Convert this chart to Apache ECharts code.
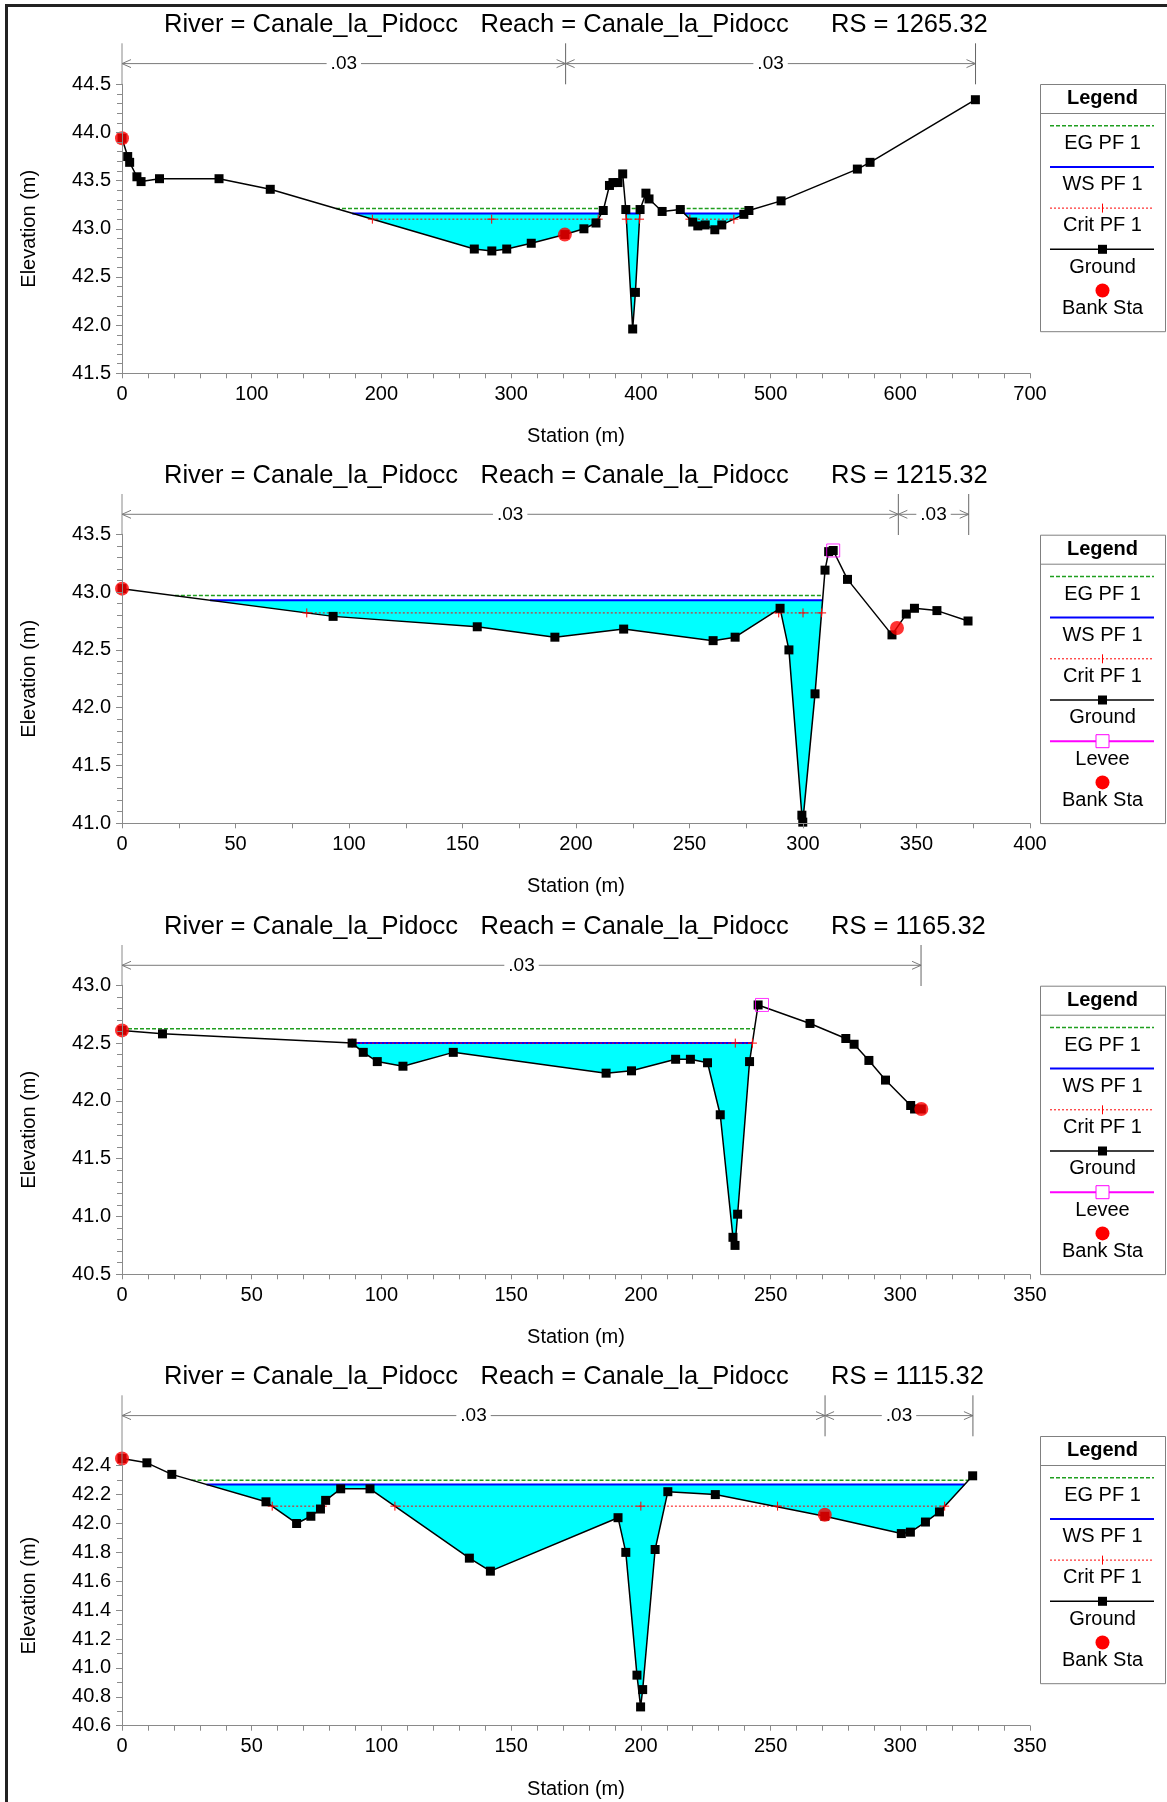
<!DOCTYPE html>
<html><head><meta charset="utf-8">
<script src="https://cdn.jsdelivr.net/npm/echarts@6/dist/echarts.min.js"></script>
<style>html,body{margin:0;padding:0;background:#fff;}#c{width:1167px;height:1802px;}</style>
</head><body><div id="c"></div>
<script>
// ================= DATA =================
const riverName = 'Canale_la_Pidocc';
const reachName = 'Canale_la_Pidocc';
const rsLabels = ['1265.32', '1215.32', '1165.32', '1115.32'];
const legendEntries = ['EG PF 1', 'WS PF 1', 'Crit PF 1', 'Ground', 'Levee', 'Bank Sta'];

// Panel 1 : RS 1265.32
const p1Ground = [[0,43.94],[4.4,43.75],[5.9,43.69],[11.5,43.54],[14.7,43.49],[28.9,43.52],[74.8,43.52],[114.3,43.41],[271.6,42.79],[285.1,42.77],[296.6,42.79],[315.5,42.85],[341.4,42.94],[356.1,43.00],[365.4,43.06],[371.0,43.19],[375.8,43.45],[378.5,43.48],[382.4,43.48],[386.0,43.57],[388.4,43.20],[393.7,41.96],[395.8,42.34],[399.4,43.20],[403.9,43.37],[406.3,43.31],[416.4,43.18],[430.4,43.20],[440.0,43.07],[443.9,43.03],[449.6,43.04],[457.0,42.99],[462.4,43.04],[479.4,43.15],[483.3,43.19],[508.1,43.29],[566.9,43.62],[576.7,43.69],[657.9,44.34]];
const p1Bank = [[0,43.94],[341.4,42.94]];
const p1Levee = [];
const p1EG = 43.21, p1WS = 43.16, p1Crit = 43.10;
const p1EGSeg = [[165,371.3],[388.3,399.5],[430.7,483.7]];
const p1WSSeg = [[177.5,369.8],[388.6,399.2],[433.4,480.4]];
const p1CritPts = [[193,285,367.1],[388.8,399.0],[437.8,471.7]];
const p1Manning = [[0,342,'.03'],[342,658,'.03']];

// Panel 2 : RS 1215.32
const p2Ground = [[0,43.03],[93.0,42.79],[156.5,42.70],[190.7,42.61],[221.0,42.68],[260.4,42.58],[270.1,42.61],[289.9,42.86],[293.8,42.50],[299.5,41.07],[299.9,41.01],[305.3,42.12],[309.7,43.19],[311.3,43.35],[313.3,43.36],[319.6,43.11],[339.2,42.63],[345.5,42.81],[349.1,42.86],[359.0,42.84],[372.7,42.75]];
const p2Bank = [[0,43.03],[341.4,42.69]];
const p2Levee = [[313.3,43.36]];
const p2EG = 42.97, p2WS = 42.93, p2Crit = 42.82;
const p2EGSeg = [[23.3,308.8]];
const p2WSSeg = [[38.8,308.6]];
const p2CritPts = [[81.4,289.3,300.0,308.2]];
const p2Manning = [[0,342,'.03'],[342,373,'.03']];

// Panel 3 : RS 1165.32
const p3Ground = [[0,42.61],[15.6,42.58],[88.7,42.50],[93.0,42.42],[98.4,42.34],[108.3,42.30],[127.7,42.42],[186.6,42.24],[196.4,42.26],[213.4,42.36],[219.1,42.36],[225.7,42.33],[230.6,41.88],[235.5,40.82],[236.3,40.75],[237.3,41.02],[241.9,42.34],[245.2,42.83],[265.2,42.67],[279.0,42.54],[282.2,42.49],[287.9,42.35],[294.3,42.18],[304.0,41.96],[305.5,41.93],[308.1,41.93]];
const p3Bank = [[0,42.61],[308.1,41.93]];
const p3Levee = [[246.7,42.83]];
const p3EG = 42.625, p3WS = 42.50, p3Crit = 42.50;
const p3EGSeg = [[0,243.8]];
const p3WSSeg = [[88.7,243.0]];
const p3CritPts = [[88.7,236.4,243.0]];
const p3Manning = [[0,308,'.03']];

// Panel 4 : RS 1115.32
const p4Ground = [[0,42.45],[9.6,42.42],[19.2,42.34],[55.5,42.15],[67.3,42.00],[72.8,42.05],[76.5,42.10],[78.5,42.16],[84.3,42.24],[95.6,42.24],[133.9,41.76],[142.0,41.67],[191.2,42.04],[194.2,41.80],[198.5,40.95],[199.9,40.73],[200.7,40.85],[205.5,41.82],[210.4,42.22],[228.7,42.20],[270.9,42.05],[300.4,41.93],[303.9,41.94],[309.7,42.01],[315.1,42.08],[327.9,42.33]];
const p4Bank = [[0,42.45],[270.9,42.06]];
const p4Levee = [];
const p4EG = 42.30, p4WS = 42.27, p4Crit = 42.12;
const p4EGSeg = [[26.8,326.4]];
const p4WSSeg = [[32.6,324.8]];
const p4CritPts = [[57.9,77.2],[105.2,200.0,252.7,317.1]];
const p4Manning = [[0,271,'.03'],[271,328,'.03']];

// Axis scales / tick labels
const yMin = [41.5, 41.0, 40.5, 40.6];
const yMax = [44.5, 43.5, 43.0, 42.4];
const yStep = [0.5, 0.5, 0.5, 0.2];
const yMinorSplit = [5, 5, 5, 2];
const xMax = [700, 400, 350, 350];
const xStep = [100, 50, 50, 50];
const xMinorSplit = [5, 2, 5, 5];

// ================= LAYOUT (style only) =================
const gridLeft = 122, gridWidth = 908;
const gridTops = [84.3, 534.3, 985.3, 1465.7];
const gridBottoms = [373.3, 823.3, 1274.3, 1725.7];
const axisExt = [41, 40.3, 40.3, 70.4];
const FONT = '"Liberation Sans", Arial, sans-serif';

const panels = [
  {ground:p1Ground, bank:p1Bank, levee:p1Levee, eg:p1EG, ws:p1WS, crit:p1Crit, egSeg:p1EGSeg, wsSeg:p1WSSeg, critPts:p1CritPts, manning:p1Manning},
  {ground:p2Ground, bank:p2Bank, levee:p2Levee, eg:p2EG, ws:p2WS, crit:p2Crit, egSeg:p2EGSeg, wsSeg:p2WSSeg, critPts:p2CritPts, manning:p2Manning},
  {ground:p3Ground, bank:p3Bank, levee:p3Levee, eg:p3EG, ws:p3WS, crit:p3Crit, egSeg:p3EGSeg, wsSeg:p3WSSeg, critPts:p3CritPts, manning:p3Manning},
  {ground:p4Ground, bank:p4Bank, levee:p4Levee, eg:p4EG, ws:p4WS, crit:p4Crit, egSeg:p4EGSeg, wsSeg:p4WSSeg, critPts:p4CritPts, manning:p4Manning}
];

const C_EG = '#1f9e1f', C_WS = '#0000ff', C_CRIT = '#ff0000', C_LEVEE = '#ff00ff', C_AXIS = '#8a8a8a';
const plusPath = 'path://M0,5L10,5M5,0L5,10';

const grids = [], xAxes = [], yAxes = [], series = [], graphics = [];

panels.forEach((p, i) => {
  grids.push({left: gridLeft, width: gridWidth, top: gridTops[i], height: gridBottoms[i] - gridTops[i], outerBoundsMode: 'none', containLabel: false});
  const tickCommon = {lineStyle: {color: C_AXIS, width: 1}};
  xAxes.push({
    type: 'value', gridIndex: i, min: 0, max: xMax[i], interval: xStep[i], z: 10,
    axisLine: {show: true, onZero: false, lineStyle: {color: C_AXIS, width: 1}},
    axisTick: Object.assign({show: true, length: 5, inside: false}, tickCommon),
    minorTick: Object.assign({show: true, splitNumber: xMinorSplit[i], length: 5}, tickCommon),
    splitLine: {show: false}, minorSplitLine: {show: false},
    axisLabel: {color: '#000', fontSize: 20, fontFamily: FONT, margin: 11}
  });
  yAxes.push({
    type: 'value', gridIndex: i, min: yMin[i], max: yMax[i], interval: yStep[i], z: 10,
    axisLine: {show: true, onZero: false, lineStyle: {color: C_AXIS, width: 1}},
    axisTick: Object.assign({show: true, length: 6, inside: false}, tickCommon),
    minorTick: Object.assign({show: true, splitNumber: yMinorSplit[i], length: 5}, tickCommon),
    splitLine: {show: false}, minorSplitLine: {show: false},
    axisLabel: {color: '#000', fontSize: 20, fontFamily: FONT, margin: 11, formatter: v => v.toFixed(1)}
  });

  const ax = {xAxisIndex: i, yAxisIndex: i, animation: false, silent: true};
  // water (cyan) + WS line
  p.wsSeg.forEach(s => {
    series.push(Object.assign({
      type: 'line', name: 'WS PF 1', data: [[s[0], p.ws], [s[1], p.ws]], symbol: 'none',
      lineStyle: {color: C_WS, width: 2}, areaStyle: {color: '#00ffff', opacity: 1, origin: 'start'}, z: 2
    }, ax));
  });
  // EG
  p.egSeg.forEach(s => {
    series.push(Object.assign({
      type: 'line', name: 'EG PF 1', data: [[s[0], p.eg], [s[1], p.eg]], symbol: 'none',
      lineStyle: {color: C_EG, width: 1.5, type: [4, 2]}, z: 2
    }, ax));
  });
  // Crit
  p.critPts.forEach(seg => {
    series.push(Object.assign({
      type: 'line', name: 'Crit PF 1', data: seg.map(x => [x, p.crit]),
      symbol: plusPath, symbolSize: 9, showSymbol: true,
      itemStyle: {color: 'rgba(0,0,0,0)', borderColor: C_CRIT, borderWidth: 1},
      lineStyle: {color: C_CRIT, width: 1, type: [2, 2]}, z: 2
    }, ax));
  });
  // Ground (white area masks everything below the ground line)
  series.push(Object.assign({
    type: 'line', name: 'Ground', data: p.ground, symbol: 'rect', symbolSize: 9, showSymbol: true, showAllSymbol: true,
    itemStyle: {color: '#000'}, lineStyle: {color: '#000', width: 1.5},
    areaStyle: {color: '#ffffff', opacity: 1, origin: 'start'}, clip: false, z: 2
  }, ax));
  // Levee
  if (p.levee.length) {
    series.push(Object.assign({
      type: 'scatter', name: 'Levee', data: p.levee, symbol: 'rect', symbolSize: 13, clip: false,
      itemStyle: {color: 'rgba(0,0,0,0)', borderColor: C_LEVEE, borderWidth: 1}, z: 3
    }, ax));
  }
  // Bank stations
  series.push(Object.assign({
    type: 'scatter', name: 'Bank Sta', data: p.bank, symbol: 'circle', symbolSize: 14, clip: false,
    itemStyle: {color: '#ff0000'}, z: 4
  }, ax));
  // Manning's n annotation (custom, positioned through the x scale)
  series.push(Object.assign({
    type: 'custom', name: 'n', clip: false, z: 5,
    data: p.manning.map(s => [s[0], yMin[i]]),
    renderItem: function (params, api) {
      const cs = params.coordSys;
      const extTop = cs.y - axisExt[i];
      const yN = extTop + 20.3;
      const seg = p.manning[params.dataIndex];
      const x0 = api.coord([seg[0], yMin[i]])[0];
      const x1 = api.coord([seg[1], yMin[i]])[0];
      const st = {stroke: '#7a7a7a', lineWidth: 1, fill: null};
      const ch = [
        {type: 'line', shape: {x1: x0, y1: yN, x2: x1, y2: yN}, style: st},
        {type: 'polyline', shape: {points: [[x0 + 9, yN - 4], [x0, yN], [x0 + 9, yN + 4]]}, style: st},
        {type: 'polyline', shape: {points: [[x1 - 9, yN - 4], [x1, yN], [x1 - 9, yN + 4]]}, style: st},
        {type: 'line', shape: {x1: x1, y1: extTop, x2: x1, y2: extTop + 41}, style: {stroke: '#666', lineWidth: 1}},
        {type: 'text', x: (x0 + x1) / 2, y: yN, style: {text: seg[2], font: '19px ' + FONT, fill: '#000', align: 'center', verticalAlign: 'middle', backgroundColor: '#fff', padding: [0, 4]}}
      ];
      if (params.dataIndex === 0) {
        ch.unshift({type: 'line', shape: {x1: cs.x, y1: extTop, x2: cs.x, y2: cs.y}, style: {stroke: C_AXIS, lineWidth: 1}});
      }
      return {type: 'group', children: ch};
    }
  }, ax));

  // ---- texts: title, axis names ----
  const extTop = gridTops[i] - axisExt[i];
  const ty = extTop - 18.5;
  const tStyle = {font: '25.5px ' + FONT, fill: '#000', verticalAlign: 'middle', align: 'left'};
  graphics.push({type: 'text', x: 164, y: ty, style: Object.assign({text: 'River = ' + riverName}, tStyle)});
  graphics.push({type: 'text', x: 480.5, y: ty, style: Object.assign({text: 'Reach = ' + reachName}, tStyle)});
  graphics.push({type: 'text', x: 831, y: ty, style: Object.assign({text: 'RS = ' + rsLabels[i]}, tStyle)});
  graphics.push({type: 'text', x: gridLeft + gridWidth / 2, y: gridBottoms[i] + 63.4,
    style: {text: 'Station (m)', font: '20px ' + FONT, fill: '#000', align: 'center', verticalAlign: 'middle'}});
  graphics.push({type: 'text', x: 29.6, y: (gridTops[i] + gridBottoms[i]) / 2, rotation: Math.PI / 2,
    style: {text: 'Elevation (m)', font: '20px ' + FONT, fill: '#000', align: 'center', verticalAlign: 'middle'}});

  // ---- legend box ----
  const names = legendEntries.filter(n => n !== 'Levee' || p.levee.length);
  const T = extTop + 40.7, L = 1040, R = 1165, C = (L + R) / 2;
  const H = 29 + 41.2 * names.length + 12.2;
  const lg = [];
  lg.push({type: 'rect', shape: {x: L + 0.5, y: T + 0.5, width: R - L, height: H}, style: {fill: '#fff', stroke: '#808080', lineWidth: 1}});
  lg.push({type: 'text', x: C, y: T + 14.5, style: {text: 'Legend', font: 'bold 20px ' + FONT, fill: '#000', align: 'center', verticalAlign: 'middle'}});
  lg.push({type: 'line', shape: {x1: L, y1: T + 29.5, x2: R, y2: T + 29.5}, style: {stroke: '#808080', lineWidth: 1}});
  names.forEach((n, k) => {
    const ly = T + 41.7 + 41.2 * k, ty2 = T + 59.5 + 41.2 * k;
    const x1 = 1050, x2 = 1154;
    if (n === 'EG PF 1') lg.push({type: 'line', shape: {x1, y1: ly, x2, y2: ly}, style: {stroke: C_EG, lineWidth: 1.5, lineDash: [4, 2]}});
    if (n === 'WS PF 1') lg.push({type: 'line', shape: {x1, y1: ly, x2, y2: ly}, style: {stroke: C_WS, lineWidth: 2}});
    if (n === 'Crit PF 1') {
      lg.push({type: 'line', shape: {x1, y1: ly, x2, y2: ly}, style: {stroke: C_CRIT, lineWidth: 1, lineDash: [2, 2]}});
      lg.push({type: 'line', shape: {x1: C, y1: ly - 4.5, x2: C, y2: ly + 4.5}, style: {stroke: C_CRIT, lineWidth: 1}});
    }
    if (n === 'Ground') {
      lg.push({type: 'line', shape: {x1, y1: ly, x2, y2: ly}, style: {stroke: '#000', lineWidth: 1.5}});
      lg.push({type: 'rect', shape: {x: C - 4.5, y: ly - 4.5, width: 9, height: 9}, style: {fill: '#000'}});
    }
    if (n === 'Levee') {
      lg.push({type: 'line', shape: {x1, y1: ly, x2, y2: ly}, style: {stroke: C_LEVEE, lineWidth: 2}});
      lg.push({type: 'rect', shape: {x: C - 6.5, y: ly - 6.5, width: 13, height: 13}, style: {fill: '#fff', stroke: C_LEVEE, lineWidth: 1}});
    }
    if (n === 'Bank Sta') lg.push({type: 'circle', shape: {cx: C, cy: ly, r: 7}, style: {fill: '#ff0000'}});
    lg.push({type: 'text', x: C, y: ty2, style: {text: n, font: '20px ' + FONT, fill: '#000', align: 'center', verticalAlign: 'middle'}});
  });
  graphics.push({type: 'group', children: lg});
});

// outer frame (left + top)
graphics.push({type: 'line', shape: {x1: 6.5, y1: 4, x2: 6.5, y2: 1802}, style: {stroke: '#222', lineWidth: 3}});
graphics.push({type: 'line', shape: {x1: 5, y1: 5.5, x2: 1167, y2: 5.5}, style: {stroke: '#222', lineWidth: 3}});

const chart = echarts.init(document.getElementById('c'), null, {renderer: 'canvas'});
chart.setOption({
  animation: false,
  backgroundColor: '#ffffff',
  textStyle: {fontFamily: FONT},
  grid: grids, xAxis: xAxes, yAxis: yAxes, series: series,
  graphic: {elements: graphics}
});
</script></body></html>
